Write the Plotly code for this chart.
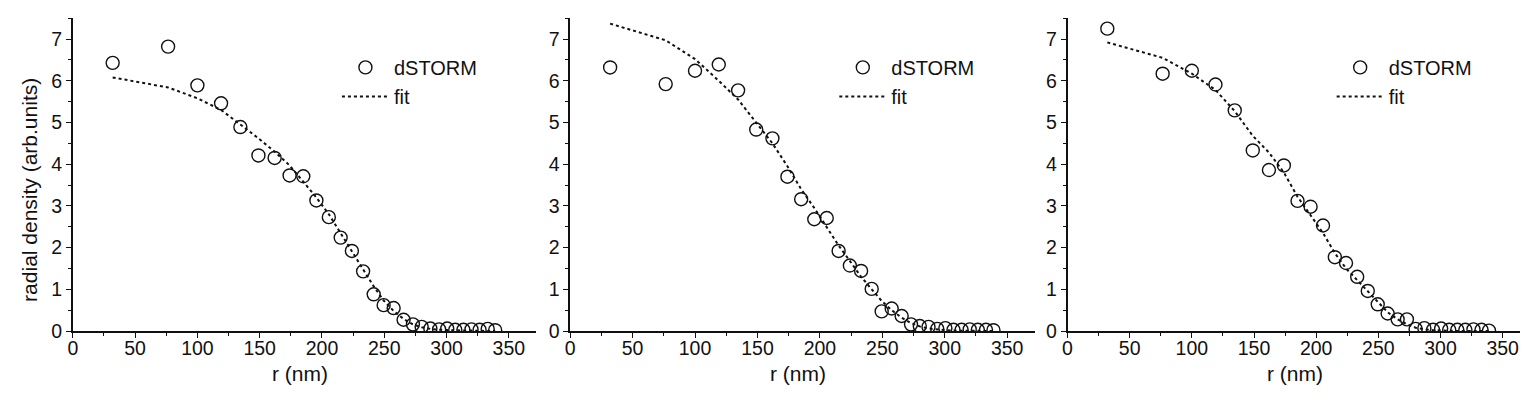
import plotly.graph_objects as go

# ---- data ----
r_nm = [32, 76.5, 100, 119, 134.5, 149, 162, 174, 185, 195.5, 205.5, 215, 224, 233,
        241.5, 249.5, 257.5, 265.5, 273, 280, 287, 294, 300.5, 307, 313.5, 320,
        326.5, 333, 339]

storm_a = [6.43, 6.82, 5.89, 5.46, 4.89, 4.21, 4.15, 3.73, 3.71, 3.13, 2.73, 2.24, 1.92,
           1.43, 0.88, 0.62, 0.55, 0.27, 0.16, 0.10, 0.06, 0.04, 0.06, 0.03, 0.03, 0.04,
           0.03, 0.05, 0.02]
fit_a = [6.08, 5.84, 5.58, 5.30, 4.95, 4.62, 4.30, 3.97, 3.58, 3.20, 2.80, 2.35, 1.93,
         1.48, 1.07, 0.73, 0.48, 0.29, 0.16, 0.09, 0.05, 0.03, 0.02, 0.01, 0.01, 0.01,
         0.0, 0.0, 0.0]

storm_b = [6.32, 5.92, 6.24, 6.39, 5.77, 4.83, 4.62, 3.70, 3.16, 2.68, 2.71, 1.92, 1.57,
           1.44, 1.01, 0.47, 0.54, 0.36, 0.16, 0.12, 0.10, 0.05, 0.07, 0.03, 0.03, 0.04,
           0.03, 0.03, 0.02]
fit_b = [7.37, 6.97, 6.52, 6.00, 5.55, 5.00, 4.50, 3.95, 3.40, 2.95, 2.50, 2.05, 1.68,
         1.30, 1.00, 0.72, 0.50, 0.32, 0.19, 0.11, 0.06, 0.03, 0.02, 0.01, 0.01, 0.01,
         0.0, 0.0, 0.0]

storm_c = [7.25, 6.17, 6.24, 5.91, 5.29, 4.33, 3.86, 3.97, 3.12, 2.98, 2.53, 1.77, 1.63,
           1.30, 0.96, 0.64, 0.42, 0.28, 0.28, 0.05, 0.07, 0.03, 0.06, 0.03, 0.03, 0.03,
           0.04, 0.03, 0.01]
fit_c = [6.92, 6.55, 6.17, 5.78, 5.27, 4.68, 4.28, 3.80, 3.22, 2.78, 2.35, 1.87, 1.50,
         1.22, 0.95, 0.68, 0.45, 0.28, 0.16, 0.08, 0.04, 0.02, 0.01, 0.01, 0.0, 0.0,
         0.0, 0.0, 0.0]

x_ticks = [0, 50, 100, 150, 200, 250, 300, 350]
y_ticks = [0, 1, 2, 3, 4, 5, 6, 7]
x_title = "r (nm)"
y_title = "radial density (arb.units)"
name_pts = "dSTORM"
name_fit = "fit"

# ---- layout geometry ----
W, H = 1528, 406
FONT = "Liberation Sans, Arial, sans-serif"
INK = "#111111"

def px(x):
    return x / W

def py(y):
    return (H - y) / H

panels = [
    dict(x0=60, x1=525, storm=storm_a, fit=fit_a, xt=288),
    dict(x0=559, x1=1025, storm=storm_b, fit=fit_b, xt=788),
    dict(x0=1058, x1=1522, storm=storm_c, fit=fit_c, xt=1286),
]
y_top, y_bot = 10.5, 332

fig = go.Figure()
layout = dict(
    width=W, height=H,
    margin=dict(l=0, r=0, t=0, b=0),
    paper_bgcolor="white", plot_bgcolor="white",
    font=dict(family=FONT, color=INK, size=19),
    annotations=[],
)

for i, p in enumerate(panels):
    k = "" if i == 0 else str(i + 1)
    xa, ya = "x" + k, "y" + k
    lg = "legend" + k
    fig.add_trace(go.Scatter(
        x=r_nm, y=p["storm"], mode="markers", name=name_pts,
        xaxis=xa, yaxis=ya, legend=lg,
        marker=dict(symbol="circle-open", size=13, color=INK, line=dict(width=1.4)),
    ))
    fig.add_trace(go.Scatter(
        x=r_nm, y=p["fit"], mode="lines", name=name_fit,
        xaxis=xa, yaxis=ya, legend=lg,
        line=dict(color=INK, width=2, dash="3px,3px"),
    ))
    axis_common = dict(
        showline=True, linecolor=INK, linewidth=1.5, showgrid=False, zeroline=False,
        ticks="outside", ticklen=5, tickwidth=1.3, tickcolor=INK,
        tickfont=dict(family=FONT, size=19.5, color=INK),
    )
    layout["xaxis" + k] = dict(
        axis_common, domain=[px(p["x0"]), px(p["x1"])], anchor=ya,
        range=[0, 372], tickmode="array", tickvals=x_ticks, ticklabelstandoff=-6,
        minor=dict(dtick=25, tick0=0, ticks="outside", ticklen=3, tickcolor=INK, tickwidth=1.2),
    )
    layout["yaxis" + k] = dict(
        axis_common, domain=[py(y_bot), py(y_top)], anchor=xa,
        range=[0, 7.5], tickmode="array", tickvals=y_ticks,
        minor=dict(dtick=0.5, tick0=0, ticks="outside", ticklen=3, tickcolor=INK, tickwidth=1.2),
    )
    layout[lg] = dict(
        x=px(p["x0"] + 265), y=py(41), xanchor="left", yanchor="top",
        bgcolor="rgba(0,0,0,0)", borderwidth=0, itemwidth=47,
        font=dict(family=FONT, size=20, color=INK), tracegroupgap=0,
    )
    layout["annotations"].append(dict(
        text=x_title, x=px(p["xt"]), y=py(376), xref="paper", yref="paper",
        showarrow=False, xanchor="center", yanchor="middle",
        font=dict(family=FONT, size=21, color=INK),
    ))

layout["annotations"].append(dict(
    text=y_title, x=px(17), y=py(187), xref="paper", yref="paper", textangle=-90,
    showarrow=False, xanchor="center", yanchor="middle",
    font=dict(family=FONT, size=21, color=INK),
))

fig.update_layout(**layout)
fig.write_html("out.html")
